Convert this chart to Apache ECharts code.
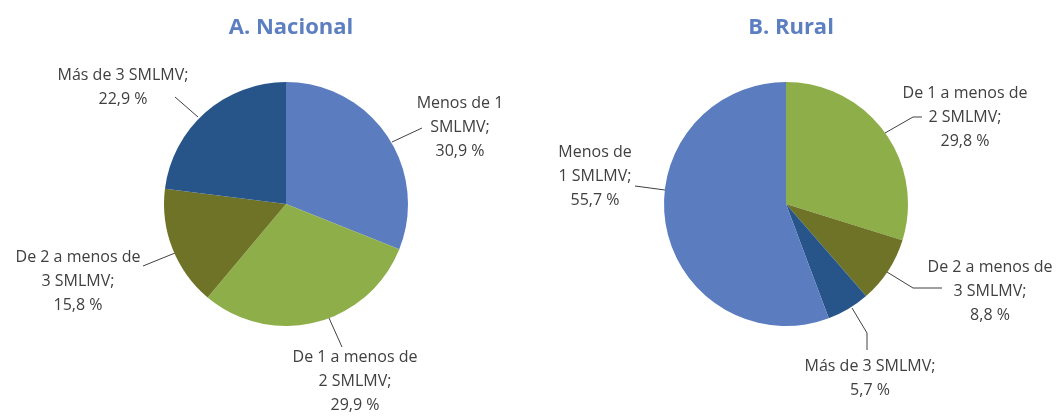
<!DOCTYPE html>
<html>
<head>
    <meta charset="utf-8">
    <script type="text/javascript" src="https://cdn.jsdelivr.net/npm/echarts@6/dist/echarts.min.js"></script>
</head>
<body style="margin:0">
    <div id="main" style="width: 1061px;height:416px;"></div>
    <script type="text/javascript">
    // datos
    let titles = ['A. Nacional', 'B. Rural']
    let namesA = ['Menos de 1 SMLMV', 'De 1 a menos de 2 SMLMV', 'De 2 a menos de 3 SMLMV', 'Más de 3 SMLMV']
    let valuesA = [30.9, 29.9, 15.8, 22.9]
    let labelsA = ['Menos de 1\nSMLMV;', 'De 1 a menos de\n2 SMLMV;', 'De 2 a menos de\n3 SMLMV;', 'Más de 3 SMLMV;']
    let namesB = ['De 1 a menos de 2 SMLMV', 'De 2 a menos de 3 SMLMV', 'Más de 3 SMLMV', 'Menos de 1 SMLMV']
    let valuesB = [29.8, 8.8, 5.7, 55.7]
    let labelsB = ['De 1 a menos de\n2 SMLMV;', 'De 2 a menos de\n3 SMLMV;', 'Más de 3 SMLMV;', 'Menos de\n1 SMLMV;']

    let colorsA = ['#5b7dc0', '#8dae48', '#6f7327', '#27558a']
    let colorsB = ['#8dae48', '#6f7327', '#27558a', '#5b7dc0']

    // posicion de etiquetas y lineas guia
    let layoutA = [
        {x: 460, y: 127, line: [[392, 142], [422, 128]]},
        {x: 355, y: 381, line: [[329, 318], [342, 347]]},
        {x: 78, y: 281, line: [[175, 253], [143, 266]]},
        {x: 123, y: 87, line: [[198, 117], [175, 97]]}
    ]
    let layoutB = [
        {x: 965, y: 117, line: [[885, 133], [913, 117], [922, 117]]},
        {x: 990, y: 291, line: [[887, 272], [913, 288], [942, 288]]},
        {x: 870, y: 378, line: [[852, 308], [867, 333], [867, 350]]},
        {x: 595, y: 176, line: [[665, 190], [635, 186]]}
    ]

    function fmt(v) { return v.toFixed(1).replace('.', ',') + ' %' }

    function buildData(names, values, labels, colors) {
        return names.map((n, i) => ({
            name: n,
            value: values[i],
            itemStyle: {color: colors[i]},
            label: {formatter: labels[i] + '\n' + fmt(values[i])}
        }))
    }

    function layoutFn(layout) {
        return function (params) {
            let p = layout[params.dataIndex]
            let pts = p.line.slice()
            if (pts.length === 2) pts.push(pts[1])
            return {
                x: p.x,
                y: p.y,
                align: 'center',
                verticalAlign: 'middle',
                labelLinePoints: pts
            }
        }
    }

    let labelStyle = {
        show: true,
        position: 'outside',
        color: '#404040',
        fontFamily: 'Open Sans',
        fontSize: 16,
        lineHeight: 24,
        align: 'center'
    }
    let lineStyle = {show: true, length: 10, length2: 10, lineStyle: {color: '#404040', width: 1}}
    let titleStyle = {color: '#5b7fc1', fontSize: 22, fontWeight: 'bold', fontFamily: 'Open Sans'}

    var myChart = echarts.init(document.getElementById('main'))
    let option = {
        animation: false,
        title: [{
            text: titles[0], left: 286, top: 12, textAlign: 'center', textStyle: titleStyle
        }, {
            text: titles[1], left: 786, top: 12, textAlign: 'center', textStyle: titleStyle
        }],
        series: [{
            type: 'pie',
            center: [286, 204],
            radius: 122,
            startAngle: 90,
            clockwise: true,
            label: labelStyle,
            labelLine: lineStyle,
            labelLayout: layoutFn(layoutA),
            data: buildData(namesA, valuesA, labelsA, colorsA)
        }, {
            type: 'pie',
            center: [786, 204],
            radius: 122,
            startAngle: 90,
            clockwise: true,
            label: labelStyle,
            labelLine: lineStyle,
            labelLayout: layoutFn(layoutB),
            data: buildData(namesB, valuesB, labelsB, colorsB)
        }]
    }
    myChart.setOption(option)
    </script>
</body>
</html>
